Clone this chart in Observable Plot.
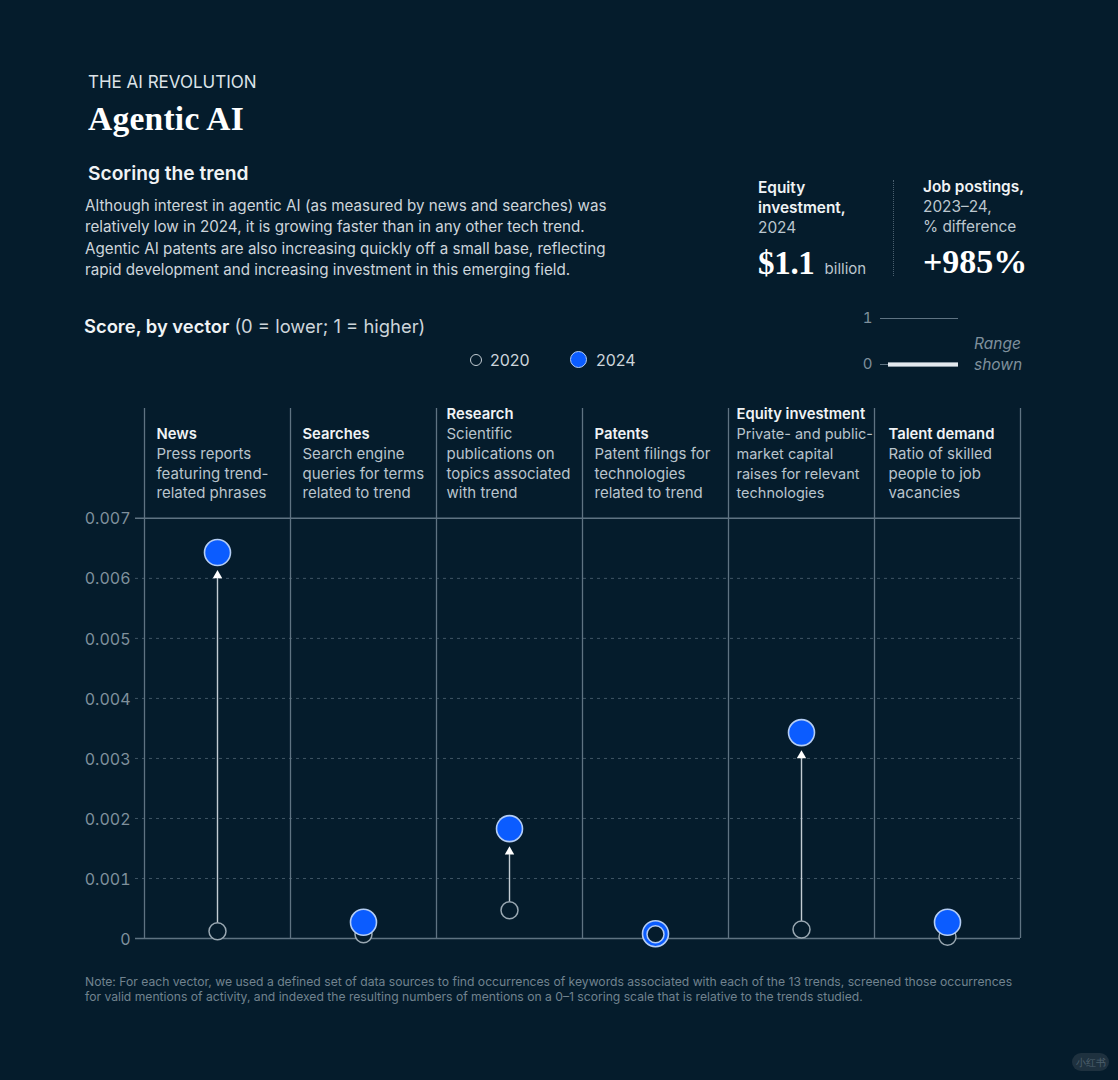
<!DOCTYPE html>
<html>
<head>
<meta charset="utf-8">
<script src="https://cdn.jsdelivr.net/npm/d3@7"></script>
<script src="https://cdn.jsdelivr.net/npm/@observablehq/plot@0.6"></script>
<style>
html,body{margin:0;padding:0;background:#051c2c;}
body{width:1118px;height:1080px;position:relative;overflow:hidden;font-family:Inter,"Noto Sans",sans-serif;color:#ccd5dc;}
.a{position:absolute;white-space:nowrap;}
.serif{font-family:"Liberation Serif",serif;font-weight:700;color:#fff;}
b{font-weight:600;color:#f0f3f5;}
svg{position:absolute;overflow:visible;background:transparent;}
</style>
</head>
<body>
<div class="a" style="left:88px;top:72px;font-size:17px;line-height:20px;color:#dde3e8;">THE AI REVOLUTION</div>
<div class="a serif" style="left:88px;top:99px;font-size:33.5px;line-height:40px;letter-spacing:.25px;">Agentic AI</div>
<div class="a" style="left:88px;top:162px;font-size:19.2px;line-height:22px;font-weight:600;color:#f0f3f5;">Scoring the trend</div>
<div class="a" style="left:85px;top:195px;font-size:15.2px;line-height:21.3px;color:#cdd5db;">Although interest in agentic AI (as measured by news and searches) was<br>relatively low in 2024, it is growing faster than in any other tech trend.<br>Agentic AI patents are also increasing quickly off a small base, reflecting<br>rapid development and increasing investment in this emerging field.</div>

<div class="a" style="left:758px;top:178px;font-size:15.4px;line-height:20px;color:#bcc7cf;"><b>Equity<br>investment,</b><br>2024</div>
<div class="a" style="left:758px;top:241px;font-size:33px;line-height:42px;letter-spacing:-.3px;"><span class="serif">$1.1</span><span style="font-size:15px;letter-spacing:0;color:#bcc7cf;margin-left:10px;">billion</span></div>
<div class="a" style="left:893px;top:180px;height:96px;border-left:1px dotted #4b6070;"></div>
<div class="a" style="left:923px;top:177px;font-size:15.4px;line-height:20px;color:#bcc7cf;"><b>Job postings,</b><br>2023–24,<br>% difference</div>
<div class="a serif" style="left:923px;top:241px;font-size:34px;line-height:42px;">+985%</div>

<div class="a" style="left:84px;top:315px;font-size:18.4px;line-height:23px;color:#cdd5db;"><b>Score, by vector</b> (0 = lower; 1 = higher)</div>

<div class="a" style="left:470px;top:354px;width:10px;height:10px;border:1.5px solid #c3ccd3;border-radius:50%;"></div>
<div class="a" style="left:490px;top:350px;font-size:16px;line-height:20px;color:#cdd5db;">2020</div>
<div class="a" style="left:570px;top:351px;width:15px;height:15px;background:#0b5cff;border:1.5px solid #b4cdf5;border-radius:50%;"></div>
<div class="a" style="left:596px;top:350px;font-size:16px;line-height:20px;color:#cdd5db;">2024</div>

<div class="a" style="left:974px;top:333px;font-size:15.5px;line-height:21px;font-style:italic;color:#7f909c;">Range<br>shown</div>

<div class="a" style="left:85px;top:974px;font-size:12.15px;line-height:15px;color:#71838f;">Note: For each vector, we used a defined set of data sources to find occurrences of keywords associated with each of the 13 trends, screened those occurrences<br>for valid mentions of activity, and indexed the resulting numbers of mentions on a 0–1 scoring scale that is relative to the trends studied.</div>

<div id="inset"></div>
<div id="chart"></div>

<script>
const vectors = ["News", "Searches", "Research", "Patents", "Equity investment", "Talent demand"];
const descriptions = [
  "Press reports\nfeaturing trend-\nrelated phrases",
  "Search engine\nqueries for terms\nrelated to trend",
  "Scientific\npublications on\ntopics associated\nwith trend",
  "Patent filings for\ntechnologies\nrelated to trend",
  "Private- and public-\nmarket capital\nraises for relevant\ntechnologies",
  "Ratio of skilled\npeople to job\nvacancies"
];
const score2020 = [0.00012, 0.00007, 0.00047, 0.00007, 0.00015, 0.00003];
const score2024 = [0.00643, 0.00027, 0.00183, 0.00008, 0.00343, 0.00027];
const arrowVectors = ["News", "Research", "Equity investment"];
const yTicks = [0, 0.001, 0.002, 0.003, 0.004, 0.005, 0.006, 0.007];
const headerTop = 0.00883;
const rangeTicks = [0, 1];

const rows = vectors.map((name, i) => ({
  name, index: i, mid: i + 0.5,
  desc: descriptions[i],
  label: name + "\n".repeat(descriptions[i].split("\n").length),
  v2020: score2020[i], v2024: score2024[i]
}));
const fmt = d => d === 0 ? "0" : d3.format(".3f")(d);
const BG = "#051c2c", LINE = "#5f7382", TXT = "#b9c4cc";

// Column headers: the source's text inset differs slightly from column to column.
const headerMarks = (names, dx, fontSize = 15) => {
  const sub = rows.filter(d => names.includes(d.name));
  return [
    Plot.text(sub, {x: "index", y: 0.007, text: "desc", textAnchor: "start", lineAnchor: "bottom", dx, dy: -20, fontSize, lineHeight: 19.8 / fontSize, fill: TXT}),
    Plot.text(sub, {x: "index", y: 0.007, text: "label", textAnchor: "start", lineAnchor: "bottom", dx, dy: -20, fontSize: 14.8, lineHeight: 1.338, fontWeight: 600, fill: "#f0f3f5"})
  ];
};

const chart = Plot.plot({
  width: 1118, height: 578,
  marginTop: 8, marginBottom: 40, marginLeft: 144, marginRight: 98,
  style: {background: "transparent", fontFamily: "Inter, 'Noto Sans', sans-serif"},
  x: {type: "linear", domain: [0, vectors.length], axis: null},
  y: {domain: [0, headerTop], axis: null},
  marks: [
    Plot.ruleY(yTicks.filter(d => d > 0 && d < 0.007), {y: d => d, stroke: LINE, strokeWidth: 1, strokeDasharray: "3,4", strokeOpacity: .65, insetLeft: -9}),
    Plot.ruleX(d3.range(vectors.length + 1), {x: d => d, stroke: LINE, strokeWidth: 1.3}),
    Plot.ruleY([0, 0.007], {y: d => d, stroke: LINE, strokeWidth: 1.5, insetLeft: -9}),
    Plot.axisY({ticks: yTicks, tickFormat: fmt, tickSize: 0, tickPadding: 14, color: "#7f909c", fontSize: 16, anchor: "left", marginLeft: 144, label: null, dy: 1}),
    ...headerMarks(["News", "Searches", "Patents"], 12),
    ...headerMarks(["Research"], 10),
    ...headerMarks(["Equity investment"], 8, 14.5),
    ...headerMarks(["Talent demand"], 14),
    Plot.ruleX(rows.filter(d => arrowVectors.includes(d.name)), {x: "mid", y1: "v2024", y2: "v2020", stroke: "#c3ccd3", strokeWidth: 1.4, insetTop: 26, insetBottom: 8}),
    Plot.dot(rows.filter(d => arrowVectors.includes(d.name)), {x: "mid", y: "v2024", dy: 23, symbol: "triangle", r: 3.5, fill: "#ffffff"}),
    Plot.dot(rows, {x: "mid", y: "v2020", r: 8.5, fill: BG, stroke: "#9aa8b2", strokeWidth: 1.5}),
    Plot.dot(rows, {x: "mid", y: "v2024", r: 13, fill: "#0b5cff", stroke: "#b4cdf5", strokeWidth: 1.6}),
    Plot.dot(rows.filter(d => d.v2024 - d.v2020 < 0.00005), {x: "mid", y: "v2020", r: 8.5, fill: BG, stroke: "#b4cdf5", strokeWidth: 1.5})
  ]
});
chart.style.left = "0px"; chart.style.top = "400px";
document.getElementById("chart").append(chart);

const inset = Plot.plot({
  width: 100, height: 66,
  marginTop: 10, marginBottom: 10, marginLeft: 22, marginRight: 0,
  style: {background: "transparent", fontFamily: "Inter, 'Noto Sans', sans-serif"},
  x: {domain: [0, 1], axis: null},
  y: {domain: [0, 1], axis: null},
  marks: [
    Plot.ruleY(rangeTicks, {y: d => d, stroke: LINE, strokeWidth: 1.2}),
    Plot.ruleY([0], {stroke: "#8b98a3", strokeWidth: 5, insetLeft: 8}),
    Plot.ruleY([0], {stroke: "#e4e9ee", strokeWidth: 3, insetLeft: 8}),
    Plot.axisY({ticks: rangeTicks, tickFormat: d => String(d), tickSize: 0, tickPadding: 8, color: "#7f909c", fontSize: 15, anchor: "left", label: null})
  ]
});
inset.style.left = "858px"; inset.style.top = "308px";
document.getElementById("inset").append(inset);
</script>
<div class="a" style="left:1072px;top:1053px;width:37px;height:18px;border-radius:9px;background:#33434f;color:#8796a1;font-size:10px;line-height:18px;text-align:center;opacity:.55;">小红书</div>
</body>
</html>
